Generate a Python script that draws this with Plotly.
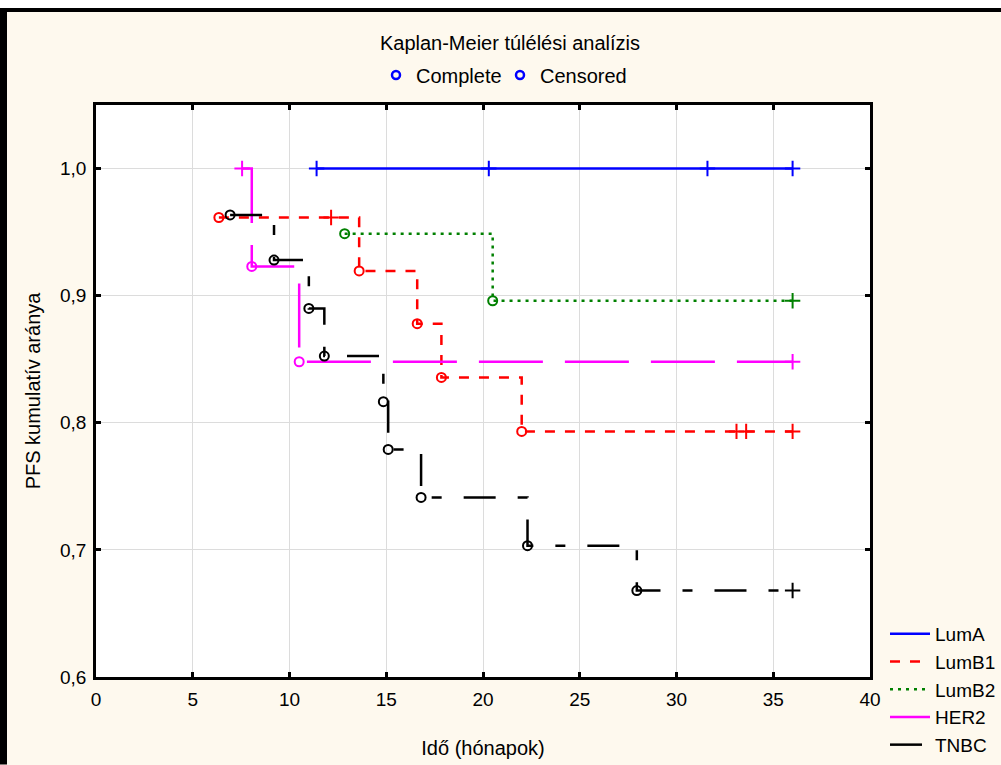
import plotly.graph_objects as go

# ---------------- data ----------------
groups = ["LumA", "LumB1", "LumB2", "HER2", "TNBC"]

lumA_time = [11.4, 20.3, 31.6, 36.0]
lumA_surv = [1.0, 1.0, 1.0, 1.0]
lumA_event = [0, 0, 0, 0]

lumB1_time = [6.35, 12.15, 13.6, 16.6, 17.85, 22.0, 33.1, 33.6, 36.0]
lumB1_surv = [0.9615, 0.9615, 0.9195, 0.878, 0.8357, 0.7932, 0.7932, 0.7932, 0.7932]
lumB1_event = [1, 0, 1, 1, 1, 1, 0, 0, 0]

lumB2_time = [12.85, 20.5, 36.0]
lumB2_surv = [0.9488, 0.896, 0.896]
lumB2_event = [1, 1, 0]

her2_time = [7.55, 8.05, 10.5, 36.0]
her2_surv = [1.0, 0.923, 0.848, 0.848]
her2_event = [0, 1, 1, 0]

tnbc_time = [6.93, 9.2, 11.0, 11.8, 14.85, 15.1, 16.8, 22.3, 27.95, 36.0]
tnbc_surv = [0.9635, 0.928, 0.890, 0.8525, 0.8166, 0.779, 0.7413, 0.7033, 0.668, 0.668]
tnbc_event = [1, 1, 1, 1, 1, 1, 1, 1, 1, 0]

x_ticks = [0, 5, 10, 15, 20, 25, 30, 35, 40]
y_ticks = [0.6, 0.7, 0.8, 0.9, 1.0]

title_text = "Kaplan-Meier túlélési analízis"
x_title = "Idő (hónapok)"
y_title = "PFS kumulatív aránya"
status_labels = ["Complete", "Censored"]

# ---------------- styles ----------------
FONT = "Liberation Sans, Arial, sans-serif"
colors = {"LumA": "#0000FF", "LumB1": "#FF0000", "LumB2": "#008000",
          "HER2": "#FF00FF", "TNBC": "#000000"}
dashes = {"LumA": "solid", "LumB1": "10px,10px", "LumB2": "3px,5px",
          "HER2": "64px,22px", "TNBC": "32px,22px,10px,22px"}

data = {
    "LumA": (lumA_time, lumA_surv, lumA_event),
    "LumB1": (lumB1_time, lumB1_surv, lumB1_event),
    "LumB2": (lumB2_time, lumB2_surv, lumB2_event),
    "HER2": (her2_time, her2_surv, her2_event),
    "TNBC": (tnbc_time, tnbc_surv, tnbc_event),
}

fig = go.Figure()

for g in groups:
    t, s, e = data[g]
    c = colors[g]
    fig.add_trace(go.Scatter(
        x=t, y=s, mode="lines", name=g, legend="legend",
        line=dict(color=c, width=2.5, dash=dashes[g], shape="hv"),
        hoverinfo="skip"))
    ce_x = [ti for ti, ei in zip(t, e) if ei == 1]
    ce_y = [si for si, ei in zip(s, e) if ei == 1]
    if ce_x:
        fig.add_trace(go.Scatter(
            x=ce_x, y=ce_y, mode="markers", showlegend=False,
            marker=dict(symbol="circle-open", size=9, color=c,
                        line=dict(color=c, width=2))))
    cs_x = [ti for ti, ei in zip(t, e) if ei == 0]
    cs_y = [si for si, ei in zip(s, e) if ei == 0]
    if cs_x:
        fig.add_trace(go.Scatter(
            x=cs_x, y=cs_y, mode="markers", showlegend=False,
            marker=dict(symbol="cross-thin-open", size=11, color=c,
                        line=dict(color=c, width=2))))

# "Complete" / "Censored" key at the top, each in its own small legend
for lab, lg in zip(status_labels, ["legend2", "legend3"]):
    fig.add_trace(go.Scatter(
        x=[None], y=[None], mode="markers", name=lab, legend=lg,
        marker=dict(symbol="circle-open", size=8, color="#0000FF",
                    line=dict(color="#0000FF", width=2.5))))

W, H = 1001, 765
L, R, T, B = 96, 131, 105, 87.5
pw, ph = W - L - R, H - T - B

def px_x(p):
    return (p - L) / pw

def px_y(p):
    return (H - B - p) / ph

axis_common = dict(
    showline=True, linecolor="black", linewidth=2.5, mirror="ticks",
    ticks="inside", ticklen=5, tickwidth=2.5, tickcolor="black",
    showgrid=True, gridcolor="#DCDCDC", gridwidth=1, zeroline=False,
    tickfont=dict(family=FONT, size=19, color="black"),
)

top_key = dict(xref="container", yref="container", orientation="h",
               xanchor="left", y=1 - 75 / H, yanchor="middle",
               bgcolor="rgba(0,0,0,0)", borderwidth=0,
               font=dict(family=FONT, size=20, color="black"))

fig.update_layout(
    width=W, height=H,
    paper_bgcolor="#FEF9EE", plot_bgcolor="white",
    margin=dict(l=L, r=R, t=T, b=B, autoexpand=False),
    separators=",.",
    font=dict(family=FONT, size=19, color="black"),
    title=dict(text=title_text, x=510 / W, xanchor="center",
               y=1 - 43 / H, yanchor="middle",
               font=dict(family=FONT, size=20, color="black")),
    xaxis=dict(range=[0, 40], tickvals=x_ticks, ticklabelstandoff=3,
               title=dict(text=x_title, font=dict(family=FONT, size=20), standoff=33),
               **axis_common),
    yaxis=dict(range=[0.6, 1.05], tickvals=y_ticks, tickformat=".1f",
               ticklabelstandoff=3,
               title=dict(text=y_title, font=dict(family=FONT, size=20), standoff=15),
               **axis_common),
    legend=dict(xref="container", yref="container",
                x=885 / W, xanchor="left", y=1 - 615 / H, yanchor="top",
                bgcolor="rgba(0,0,0,0)", borderwidth=0,
                font=dict(family=FONT, size=19, color="black"),
                itemwidth=40, tracegroupgap=0),
    legend2=dict(x=376 / W, **top_key),
    legend3=dict(x=500 / W, **top_key),
    shapes=[
        dict(type="rect", xref="paper", yref="paper", layer="below",
             x0=px_x(0), x1=px_x(W), y0=px_y(0), y1=px_y(8),
             fillcolor="white", line=dict(width=0)),
        dict(type="line", xref="paper", yref="paper",
             x0=px_x(0), x1=px_x(W), y0=px_y(10), y1=px_y(10),
             line=dict(color="black", width=4)),
        dict(type="line", xref="paper", yref="paper",
             x0=px_x(3.5), x1=px_x(3.5), y0=px_y(8), y1=px_y(H),
             line=dict(color="black", width=7)),
    ],
)

fig.write_html("out.html", config={"displayModeBar": False},
               post_script="document.body.style.margin='0';")
